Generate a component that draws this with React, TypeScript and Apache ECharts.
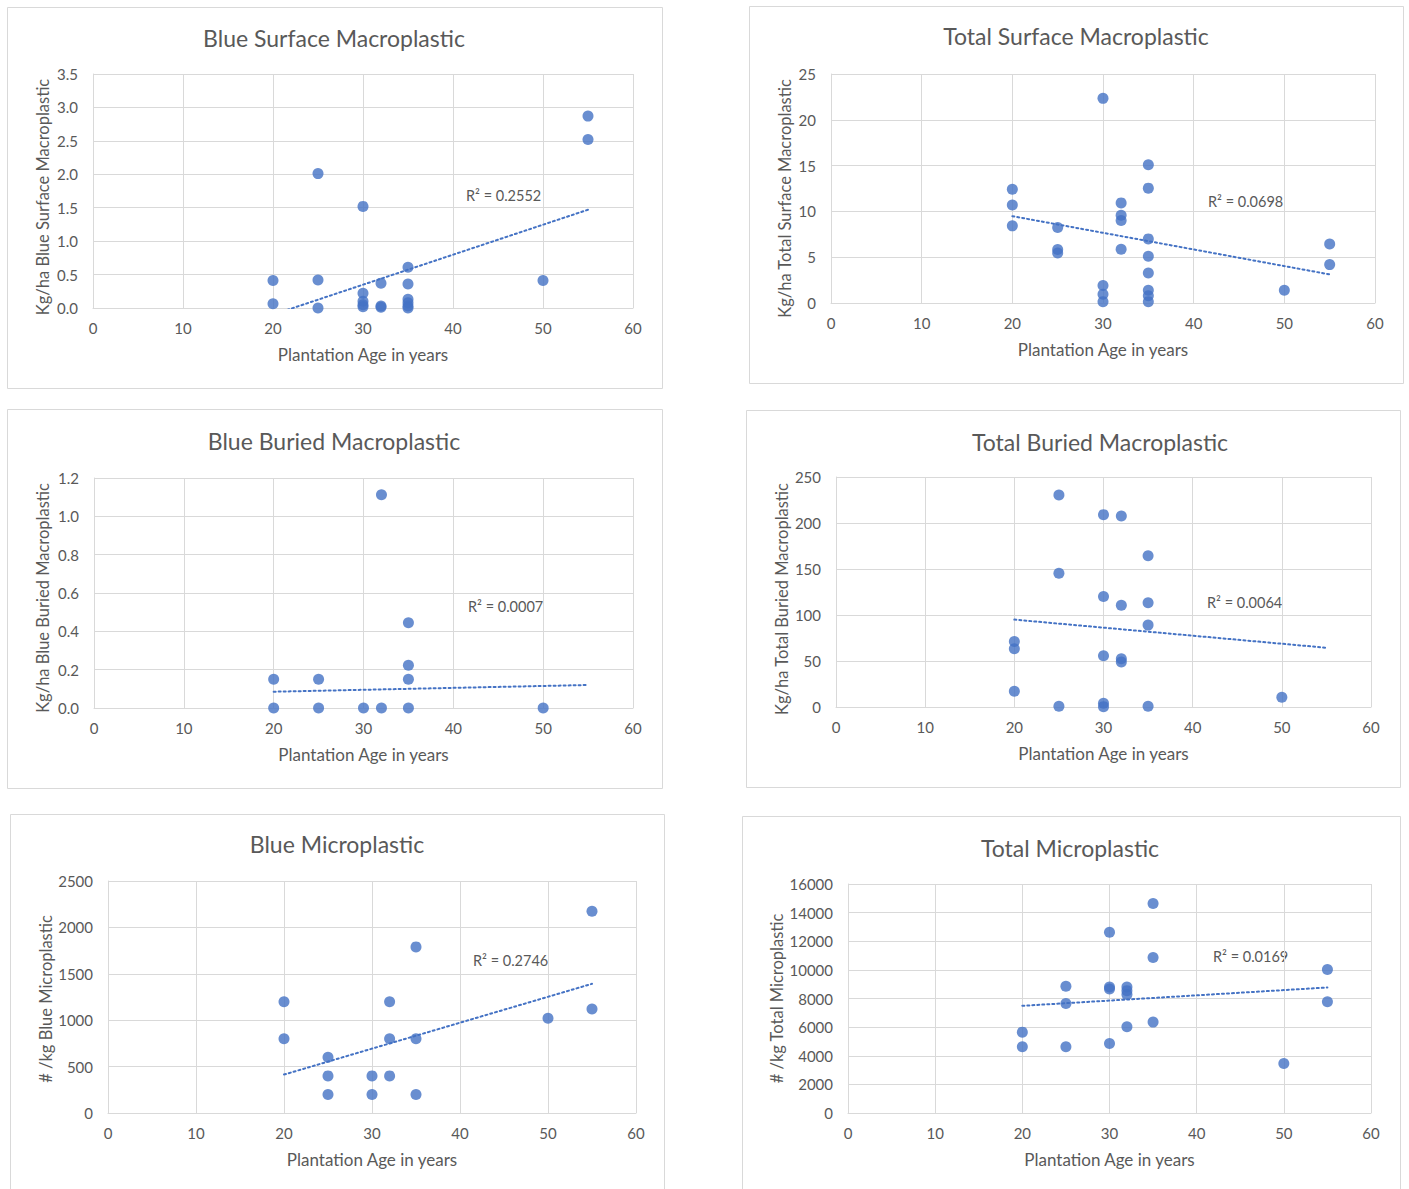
import React, { useEffect, useRef } from "react";
import * as echarts from "echarts";

// ---- Data ----
const blueSurfaceAge = [20, 20, 25, 25, 25, 30, 30, 30, 30, 30, 32, 32, 32, 35, 35, 35, 35, 35, 35, 50, 55, 55];
const blueSurfaceKg = [0.41, 0.065, 2.01, 0.42, 0, 1.52, 0.22, 0.1, 0.05, 0.02, 0.37, 0.03, 0.01, 0.61, 0.36, 0.13, 0.08, 0.03, 0, 0.41, 2.87, 2.52];
const blueSurfaceTrend = [[20, -0.1], [55, 1.47]];

const totalSurfaceAge = [20, 20, 20, 25, 25, 25, 30, 30, 30, 30, 32, 32, 32, 32, 35, 35, 35, 35, 35, 35, 35, 35, 50, 55, 55];
const totalSurfaceKg = [12.43, 10.71, 8.42, 8.24, 5.83, 5.47, 22.34, 1.9, 0.95, 0.15, 10.93, 9.58, 9.0, 5.87, 15.09, 12.54, 7.0, 5.1, 3.28, 1.38, 0.8, 0.15, 1.38, 6.45, 4.19];
const totalSurfaceTrend = [[20, 9.48], [55, 3.12]];

const blueBuriedAge = [20, 20, 25, 25, 30, 32, 32, 35, 35, 35, 35, 50];
const blueBuriedKg = [0.15, 0, 0.15, 0, 0, 1.113, 0, 0.445, 0.223, 0.15, 0, 0];
const blueBuriedTrend = [[20, 0.085], [55, 0.12]];

const totalBuriedAge = [20, 20, 20, 25, 25, 25, 30, 30, 30, 30, 30, 32, 32, 32, 32, 35, 35, 35, 35, 50];
const totalBuriedKg = [71.3, 63.3, 17.0, 230.5, 145.4, 0.7, 209.1, 120.1, 55.7, 4, 0.4, 207.7, 110.7, 52.5, 48.8, 164.3, 113.2, 89, 0.7, 10.5];
const totalBuriedTrend = [[20, 95], [55, 64.4]];

const blueMicroAge = [20, 20, 25, 25, 25, 30, 30, 32, 32, 32, 35, 35, 35, 50, 55, 55];
const blueMicroCount = [1200, 800, 600, 400, 200, 400, 200, 1200, 800, 400, 1790, 800, 200, 1020, 2175, 1120];
const blueMicroTrend = [[20, 414], [55, 1392]];

const totalMicroAge = [20, 20, 25, 25, 25, 30, 30, 30, 30, 32, 32, 32, 32, 35, 35, 35, 50, 55, 55];
const totalMicroCount = [5650, 4630, 8860, 7650, 4630, 12630, 8810, 8670, 4860, 8800, 8550, 8280, 6020, 14630, 10860, 6350, 3465, 10020, 7770];
const totalMicroTrend = [[20, 7490], [55, 8770]];

const titles = [
  "Blue Surface Macroplastic",
  "Total Surface Macroplastic",
  "Blue Buried Macroplastic",
  "Total Buried Macroplastic",
  "Blue Microplastic",
  "Total Microplastic",
];
const yNames = [
  "Kg/ha Blue Surface Macroplastic",
  "Kg/ha Total Surface Macroplastic",
  "Kg/ha Blue Buried Macroplastic",
  "Kg/ha Total Buried Macroplastic",
  "# /kg Blue Microplastic",
  "# /kg Total Microplastic",
];
const xName = "Plantation Age in years";
const r2Labels = ["R² = 0.2552", "R² = 0.0698", "R² = 0.0007", "R² = 0.0064", "R² = 0.2746", "R² = 0.0169"];
const yMax = [3.5, 25, 1.2, 250, 2500, 16000];
const yStep = [0.5, 5, 0.2, 50, 500, 2000];
const yDecimals = [1, 0, 1, 0, 0, 0];
const xMin = 0;
const xMax = 60;
const xStep = 10;

const panels = [
  { x: blueSurfaceAge, y: blueSurfaceKg, trend: blueSurfaceTrend },
  { x: totalSurfaceAge, y: totalSurfaceKg, trend: totalSurfaceTrend },
  { x: blueBuriedAge, y: blueBuriedKg, trend: blueBuriedTrend },
  { x: totalBuriedAge, y: totalBuriedKg, trend: totalBuriedTrend },
  { x: blueMicroAge, y: blueMicroCount, trend: blueMicroTrend },
  { x: totalMicroAge, y: totalMicroCount, trend: totalMicroTrend },
];

// ---- Layout (pixels) ----
const layout = [
  { box: [7, 7, 655, 381], grid: [93, 74, 540, 234], title: [334, 38], r2: [466, 195], yGap: 42, yShift: 12 },
  { box: [749, 6, 654, 377], grid: [831, 74, 544, 229], title: [1076, 36], r2: [1208, 201], yGap: 38, yShift: 20 },
  { box: [7, 409, 655, 379], grid: [94, 478, 539, 230], title: [334, 441], r2: [468, 606], yGap: 43, yShift: 10 },
  { box: [746, 410, 654, 377], grid: [836, 477, 535, 230], title: [1100, 442], r2: [1207, 602], yGap: 46, yShift: 14 },
  { box: [10, 814, 654, 380], grid: [108, 881, 528, 232], title: [337, 844], r2: [473, 960], yGap: 54, yShift: 4 },
  { box: [742, 816, 658, 378], grid: [848, 884, 523, 229], title: [1070, 848], r2: [1213, 956], yGap: 62, yShift: 0 },
];

const FONT = "Lato, 'Open Sans', sans-serif";
const TEXT = "#595959";
const GRIDC = "#d9d9d9";
const BLUE = "#4472C4";

export default function App() {
  const ref = useRef<HTMLDivElement>(null);
  useEffect(() => {
    if (!ref.current) return;
    const chart = echarts.init(ref.current, null, { renderer: "svg" });
    const grid: any[] = [];
    const xAxis: any[] = [];
    const yAxis: any[] = [];
    const series: any[] = [];
    const graphic: any[] = [];
    panels.forEach((p, i) => {
      const L = layout[i];
      grid.push({ left: L.grid[0], top: L.grid[1], width: L.grid[2], height: L.grid[3], containLabel: false });
      xAxis.push({
        type: "value",
        gridIndex: i,
        min: xMin,
        max: xMax,
        interval: xStep,
        name: xName,
        nameLocation: "middle",
        nameGap: 38,
        nameTextStyle: { color: TEXT, fontSize: 17, fontFamily: FONT },
        axisLine: { show: true, lineStyle: { color: GRIDC, width: 1 } },
        axisTick: { show: false },
        axisLabel: { color: TEXT, fontSize: 15, fontFamily: FONT, margin: 12 },
        splitLine: { show: true, lineStyle: { color: GRIDC, width: 1 } },
      });
      yAxis.push({
        type: "value",
        gridIndex: i,
        min: 0,
        max: yMax[i],
        interval: yStep[i],
        name: yNames[i],
        nameLocation: "middle",
        nameGap: L.yGap,
        nameRotate: 90,
        nameTextStyle: { color: TEXT, fontSize: 16.5, fontFamily: FONT, padding: [0, L.yShift, 0, 0] },
        axisLine: { show: true, lineStyle: { color: GRIDC, width: 1 } },
        axisTick: { show: false },
        axisLabel: {
          color: TEXT,
          fontSize: 15,
          fontFamily: FONT,
          margin: 15,
          formatter: (v: number) => v.toFixed(yDecimals[i]),
        },
        splitLine: { show: true, lineStyle: { color: GRIDC, width: 1 } },
      });
      series.push({
        type: "scatter",
        xAxisIndex: i,
        yAxisIndex: i,
        data: p.x.map((xv, k) => [xv, p.y[k]]),
        symbol: "circle",
        symbolSize: 11,
        itemStyle: { color: BLUE },
        z: 3,
      });
      series.push({
        type: "line",
        xAxisIndex: i,
        yAxisIndex: i,
        data: p.trend,
        symbol: "none",
        clip: true,
        lineStyle: { color: BLUE, width: 2, type: [2, 3], cap: "round" },
        z: 2,
      });
      graphic.push({
        type: "rect",
        shape: { x: L.box[0] + 0.5, y: L.box[1] + 0.5, width: L.box[2], height: L.box[3] },
        style: { fill: "none", stroke: GRIDC, lineWidth: 1 },
        silent: true,
        z: 0,
      });
      graphic.push({
        type: "text",
        x: L.title[0],
        y: L.title[1],
        style: {
          text: titles[i],
          fill: TEXT,
          fontSize: 23,
          fontFamily: FONT,
          textAlign: "center",
          textVerticalAlign: "middle",
        },
      });
      graphic.push({
        type: "text",
        x: L.r2[0],
        y: L.r2[1],
        style: {
          text: r2Labels[i],
          fill: TEXT,
          fontSize: 14.5,
          fontFamily: FONT,
          textAlign: "left",
          textVerticalAlign: "middle",
        },
      });
    });
    chart.setOption({
      animation: false,
      backgroundColor: "#ffffff",
      grid,
      xAxis,
      yAxis,
      series,
      graphic,
    });
    return () => chart.dispose();
  }, []);
  return (
    <div
      ref={ref}
      style={{ position: "absolute", left: 0, top: 0, width: 1409, height: 1189, background: "#fff" }}
    />
  );
}
